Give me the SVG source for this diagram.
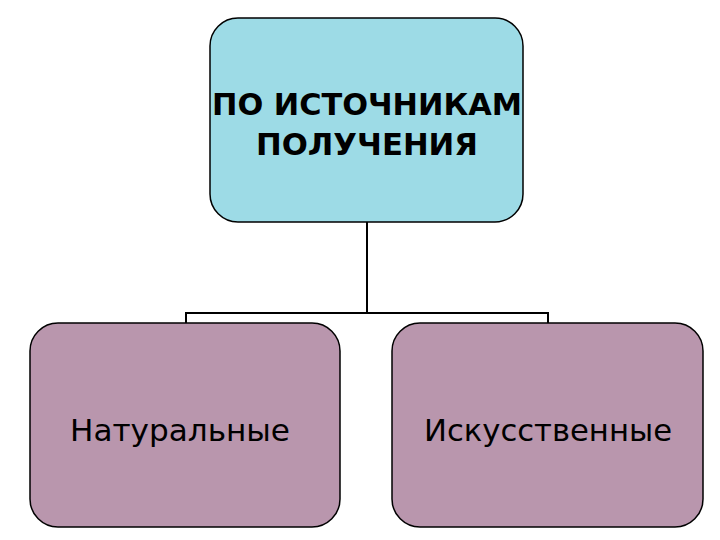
<svg xmlns="http://www.w3.org/2000/svg" width="720" height="540" viewBox="0 0 720 540">
<style>
.box{stroke:#000;stroke-width:1.5}
.t{font-family:"DejaVu Sans Condensed","DejaVu Sans",sans-serif;text-anchor:middle;fill:#000}
.conn{fill:none;stroke:#000;stroke-width:2}
</style>
<rect width="720" height="540" fill="#fff"/>
<g id="connectors">
<path class="conn" d="M367 222V313M186 323V313H548V323"/>
</g>
<g id="top">
<rect class="box" x="210" y="18" width="313" height="204" rx="28" fill="#9ddbe6"/>
<text class="t" x="367" y="115" font-size="31" font-weight="bold" textLength="310" lengthAdjust="spacingAndGlyphs">ПО ИСТОЧНИКАМ</text>
<text class="t" x="367" y="155" font-size="31" font-weight="bold" textLength="222" lengthAdjust="spacingAndGlyphs">ПОЛУЧЕНИЯ</text>
</g>
<g id="natural">
<rect class="box" x="30" y="323" width="310" height="204" rx="28" fill="#b996ad"/>
<text class="t" x="180" y="441" font-size="31" textLength="220" lengthAdjust="spacingAndGlyphs">Натуральные</text>
</g>
<g id="artificial">
<rect class="box" x="392" y="323" width="311" height="204" rx="28" fill="#b996ad"/>
<text class="t" x="548" y="441" font-size="31" textLength="248" lengthAdjust="spacingAndGlyphs">Искусственные</text>
</g>
</svg>
